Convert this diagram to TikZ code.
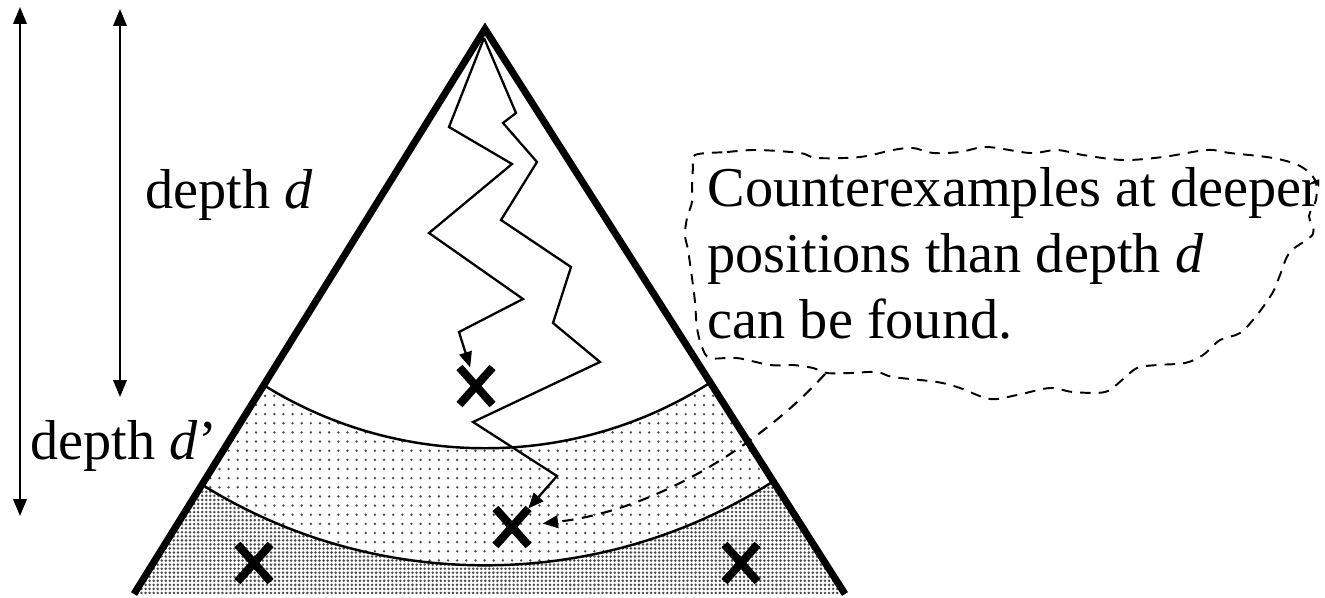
\documentclass[tikz,border=0pt]{standalone}
\usepackage{fontspec}
\setmainfont{Liberation Serif}
\usetikzlibrary{
    arrows.meta,
    shapes.misc,
    patterns.meta
}

\begin{document}
\begin{tikzpicture}[
    x=0.01cm, y=-0.01cm,
    tree/.style={line width=2pt, line join=miter},
    walk/.style={line width=0.65pt},
    arc/.style={line width=0.7pt},
    arrow/.style={-{Triangle[length=4.4pt,width=3.6pt]}, line width=0.65pt},
    dimarrow/.style={{Triangle[length=4.8pt,width=3.8pt]}-{Triangle[length=4.8pt,width=3.8pt]}, line width=0.65pt},
    dasharrow/.style={-{Triangle[length=4.4pt,width=3.6pt]}, line width=0.6pt, dash pattern=on 3.2pt off 2.4pt, shorten >=4pt},
    balloon/.style={line width=0.55pt, dash pattern=on 3pt off 2.3pt},
    cex/.style={draw, cross out, line width=2.3pt, minimum width=0.25cm, minimum height=0.29cm, inner sep=0pt},
    txt/.style={inner sep=0pt, font=\fontsize{16}{18.8}\selectfont},
    sparse/.style={pattern={Dots[distance=2.6pt, radius=0.38pt]}, pattern color=gray!60!black},
    dense/.style={pattern={Dots[distance=1.15pt, radius=0.4pt]}, pattern color=gray!60!black}
]

\useasboundingbox (0,0) rectangle (1325,597);

% Define radii of the two depth levels
\pgfmathsetmacro{\rin}{4.19}
\pgfmathsetmacro{\rout}{5.36}

% ============================== TREE ==============================
\coordinate (top) at (485,29);
\coordinate (base_l) at (134,594);
\coordinate (base_r) at (845,594);
\coordinate (root) at (484,38);

% TREE: depth bands
\begin{scope}
    \clip (top) -- (base_l) -- (base_r) -- cycle;
    \fill[sparse, even odd rule] (top) circle (\rin cm) (top) circle (\rout cm);
    \fill[dense, even odd rule] (top) circle (\rout cm) (0,0) rectangle (1325,597);
    \draw[arc] (top) circle (\rin cm);
    \draw[arc] (top) circle (\rout cm);
\end{scope}
\draw[tree] (base_l) -- (top) -- (base_r);

% TREE: counterexamples
\node[cex] (cex_d) at (476,386) {};
\node[cex] (cex_dd) at (512,527) {};
\node[cex] (cex_l) at (254,563) {};
\node[cex] (cex_r) at (741,563) {};

% TREE: search paths
\draw[arrow, line join=miter] (root) -- (449,127) -- (512,164) -- (429,233) -- (523,299) -- (459,332) -- (cex_d);
\draw[arrow, line join=miter] (root) -- (516,113) -- (503,123) -- (537,162) -- (501,220) -- (571,267) -- (553,323) -- (600,362) -- (473,422) -- (557,476) -- (cex_dd);

% ============================== DEPTHS ==============================
\coordinate (dd_top) at (20,7);
\coordinate (dd_bot) at (20,516);
\coordinate (d_top) at (120,9);
\coordinate (d_bot) at (120,397);
\draw[dimarrow] (dd_top) -- (dd_bot);
\draw[dimarrow] (d_top) -- (d_bot);
\node[txt, anchor=base west] (depth_d) at (145,208) {depth \textit{d}};
\node[txt, anchor=base west] (depth_dd) at (30,459) {depth \textit{d}’};

% ============================== CALLOUT ==============================
\node[txt, anchor=north west, align=left] (callout) at (707,167) {Counterexamples at deeper\\positions than depth \textit{d}\\can be found.};
\draw[balloon] plot[smooth cycle, tension=0.55] coordinates {
    (695,155) (727,152) (757,150) (800,153) (817,158) (860,157) (893,150)
    (913,148) (933,153) (960,152) (987,147) (1030,153) (1057,150) (1083,155)
    (1123,160) (1163,157) (1207,150) (1230,153) (1273,158) (1300,166)
    (1315,180) (1316,200) (1309,216) (1313,234) (1290,252) (1280,275)
    (1273,292) (1257,315) (1240,333) (1220,340) (1203,355) (1185,363)
    (1157,365) (1137,368) (1122,380) (1105,392) (1073,392) (1050,388)
    (1017,395) (990,399) (960,388) (937,382) (893,377) (877,372) (850,373)
    (827,373) (813,368) (793,365) (770,365) (737,358) (710,358) (702,347)
    (697,328) (695,302) (692,278) (688,250) (685,235) (687,218) (692,202)
    (692,185) (693,168)};
\coordinate (tail) at (825,374);
\draw[dasharrow] (tail) .. controls (765,440) and (660,510) .. (cex_dd);

\end{tikzpicture}
\end{document}
